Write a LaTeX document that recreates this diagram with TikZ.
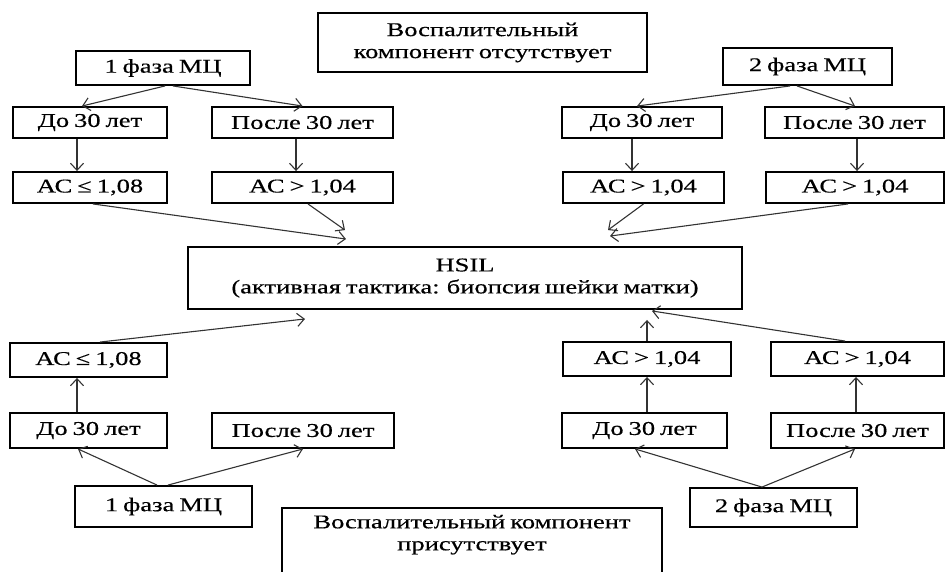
\documentclass[tikz,border=0pt]{standalone}
\usepackage{fontspec}
\setmainfont{Liberation Serif}[FakeStretch=1.36,FakeBold=0.4,WordSpace=0.75]
\usetikzlibrary{arrows.meta}
\begin{document}
\begin{tikzpicture}[x=1pt,y=-1pt,
  box/.style={draw, line width=1.9pt, inner sep=0pt, align=center, font=\fontsize{19.5}{22}\selectfont, text=black},
  arr/.style={line width=1.1pt, -{Straight Barb[length=7pt,width=13pt,line width=1.1pt]}, draw=black!80}]
\useasboundingbox (0,0) rectangle (945,571);
% top
\node[box, minimum width=329pt, minimum height=59pt] (top) at (482.5,42.5) {Воспалительный\\компонент отсутствует};
\node[box, minimum width=174pt, minimum height=34pt] (p1t) at (163,68) {1 фаза МЦ};
\node[box, minimum width=154pt, minimum height=31pt] (d1t) at (90,122.5) {До 30 лет};
\node[box, minimum width=181pt, minimum height=31pt] (a1t) at (302.5,122.5) {После 30 лет};
\node[box, minimum width=154pt, minimum height=31pt] (d1tac) at (90,187.5) {АС ≤ 1,08};
\node[box, minimum width=181pt, minimum height=31pt] (a1tac) at (302.5,187.5) {АС > 1,04};
\node[box, minimum width=169pt, minimum height=37pt] (p2t) at (807.5,66.5) {2 фаза МЦ};
\node[box, minimum width=160pt, minimum height=31pt] (d2t) at (642,122.5) {До 30 лет};
\node[box, minimum width=179pt, minimum height=31pt] (a2t) at (854.5,122.5) {После 30 лет};
\node[box, minimum width=161pt, minimum height=31pt] (d2tac) at (643.5,187.5) {АС > 1,04};
\node[box, minimum width=178pt, minimum height=31pt] (a2tac) at (855,187.5) {АС > 1,04};
% center
\node[box, minimum width=554pt, minimum height=62pt] (hsil) at (465,278) {HSIL\\(активная тактика: биопсия шейки матки)};
% bottom left
\node[box, minimum width=157pt, minimum height=34pt] (ac1b) at (88.5,360) {АС ≤ 1,08};
\node[box, minimum width=157pt, minimum height=35pt] (d1b) at (88.5,430.5) {До 30 лет};
\node[box, minimum width=182pt, minimum height=35pt] (a1b) at (303,430.5) {После 30 лет};
\node[box, minimum width=177pt, minimum height=41pt] (p1b) at (163.5,506.5) {1 фаза МЦ};
% bottom right
\node[box, minimum width=168pt, minimum height=34pt] (ac2b) at (647,359) {АС > 1,04};
\node[box, minimum width=173pt, minimum height=34pt] (ac2b2) at (857.5,359) {АС > 1,04};
\node[box, minimum width=165pt, minimum height=35pt] (d2b) at (644.5,430.5) {До 30 лет};
\node[box, minimum width=173pt, minimum height=35pt] (a2b) at (857.5,430.5) {После 30 лет};
\node[box, minimum width=167pt, minimum height=39pt] (p2b) at (773.5,507.5) {2 фаза МЦ};
% bottom box
\node[box, anchor=north, minimum width=380pt, inner ysep=7pt, text depth=40pt] (bot) at (472,507) {Воспалительный компонент\\присутствует};
% arrows top-left
\draw[arr] ([xshift=2pt]p1t.south) -- ([xshift=-8pt]d1t.north);
\draw[arr] ([xshift=10pt]p1t.south) -- (a1t.north);
\draw[arr] ([xshift=-13pt]d1t.south) -- ([xshift=-13pt]d1tac.north);
\draw[arr] ([xshift=-6.5pt]a1t.south) -- ([xshift=-6.5pt]a1tac.north);
\draw[arr] ([xshift=3pt]d1tac.south) -- ([xshift=-119pt,yshift=7pt]hsil.north);
\draw[arr] ([xshift=5.5pt]a1tac.south) -- ([xshift=-120pt,yshift=16pt]hsil.north);
% arrows top-right
\draw[arr] ([xshift=-17.5pt]p2t.south) -- ([xshift=-5pt]d2t.north);
\draw[arr] ([xshift=-10.5pt]p2t.south) -- ([xshift=0.5pt]a2t.north);
\draw[arr] ([xshift=-10pt]d2t.south) -- ([xshift=-11.5pt]d2tac.north);
\draw[arr] ([xshift=2.5pt]a2t.south) -- ([xshift=2pt]a2tac.north);
\draw[arr] (d2tac.south) -- ([xshift=143pt,yshift=16pt]hsil.north);
\draw[arr] ([xshift=-7pt]a2tac.south) -- ([xshift=145pt,yshift=10pt]hsil.north);
% arrows bottom-left
\draw[arr] ([xshift=-6.5pt]p1b.north) -- ([xshift=-10.5pt]d1b.south);
\draw[arr] ([xshift=4.5pt]p1b.north) -- (a1b.south);
\draw[arr] ([xshift=-11.5pt]d1b.north) -- ([xshift=-11.5pt]ac1b.south);
\draw[arr] ([xshift=11.5pt]ac1b.north) -- ([xshift=-160pt,yshift=-9pt]hsil.south);
% arrows bottom-right
\draw[arr] ([xshift=-11.5pt]p2b.north) -- ([xshift=-9.5pt]d2b.south);
\draw[arr] ([xshift=-11.5pt]p2b.north) -- ([xshift=-2.5pt]a2b.south);
\draw[arr] ([xshift=2.5pt]d2b.north) -- (ac2b.south);
\draw[arr] ([xshift=-1.5pt]a2b.north) -- ([xshift=-1.5pt]ac2b2.south);
\draw[arr] (ac2b.north) -- ([xshift=182pt,yshift=-10pt]hsil.south);
\draw[arr] ([xshift=-12.5pt]ac2b2.north) -- ([xshift=187pt,yshift=-1pt]hsil.south);
\end{tikzpicture}
\end{document}
